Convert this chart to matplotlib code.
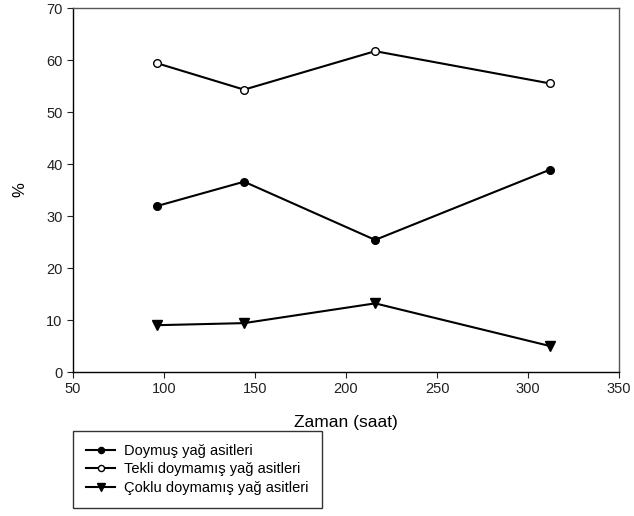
import matplotlib
matplotlib.use("Agg")
import matplotlib.pyplot as plt

plt.rcParams['font.family'] = ['Liberation Sans', 'DejaVu Sans']

zaman = [96, 144, 216, 312]
doymus = [31.9, 36.6, 25.4, 38.9]
tekli = [59.4, 54.3, 61.7, 55.5]
coklu = [9.0, 9.4, 13.2, 5.0]

labels = ["Doymuş yağ asitleri", "Tekli doymamış yağ asitleri", "Çoklu doymamış yağ asitleri"]
xticks = [50, 100, 150, 200, 250, 300, 350]
yticks = [0, 10, 20, 30, 40, 50, 60, 70]

fig = plt.figure(figsize=(6.34, 5.16), dpi=100)
ax = fig.add_axes([73/634, 1-372/516, (619-73)/634, (372-8)/516])

h1, = ax.plot(zaman, doymus, color='black', lw=1.5, marker='o', ms=5.5,
              mfc='black', mec='black', label=labels[0])
h2, = ax.plot(zaman, tekli, color='black', lw=1.5, marker='o', ms=5.5,
              mfc='white', mec='black', mew=1, label=labels[1])
h3, = ax.plot(zaman, coklu, color='black', lw=1.5, marker='v', ms=7,
              mfc='black', mec='black', label=labels[2])

ax.set_xlim(50, 350)
ax.set_ylim(0, 70)
ax.set_xticks(xticks)
ax.set_yticks(yticks)
ax.tick_params(direction='out', length=4, width=0.8, labelsize=10.5, colors='#222222')
for s in ['left', 'bottom']:
    ax.spines[s].set_color('black')
    ax.spines[s].set_linewidth(1)
for s in ['top', 'right']:
    ax.spines[s].set_color('#555555')
    ax.spines[s].set_linewidth(1)

ax.set_xlabel("Zaman (saat)", fontsize=12.5, va='center')
ax.xaxis.set_label_coords(0.5, (372-423)/364)
ax.set_ylabel("%", fontsize=12, va='center')
ax.yaxis.set_label_coords((20-73)/546, 0.5)

leg = fig.legend(handles=[h1, h2, h3], loc='upper left',
                 bbox_to_anchor=(73/634, 1-431/516), fontsize=10.5,
                 frameon=True, fancybox=False, edgecolor='black',
                 handlelength=2.0, handletextpad=0.6, labelspacing=0.3,
                 borderpad=0.9, borderaxespad=0, markerscale=0.8)
leg.get_frame().set_linewidth(1)

fig.savefig("out.png", dpi=100)
